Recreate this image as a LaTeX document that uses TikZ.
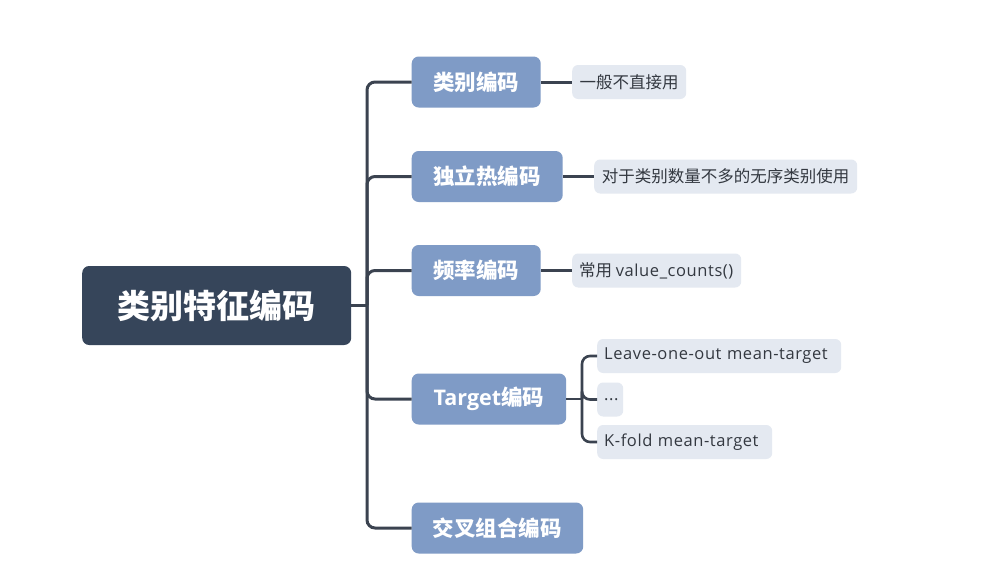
\documentclass[tikz,border=0pt]{standalone}
\usepackage{fontspec}
\setmainfont{Noto Sans CJK SC}
\newfontfamily\latin{Open Sans}
\newfontfamily\latinw[LetterSpace=3.5]{Open Sans}
\definecolor{rootc}{HTML}{36455A}
\definecolor{childc}{HTML}{7F9BC6}
\definecolor{leafc}{HTML}{E4E9F1}
\definecolor{linec}{HTML}{3B4350}
\definecolor{leaftext}{HTML}{333840}
\tikzset{
  rootbox/.style={fill=rootc, rounded corners=7pt, text=white, anchor=west, inner sep=0pt,
    font=\fontsize{33}{36}\selectfont\bfseries, align=center},
  childbox/.style={fill=childc, rounded corners=7pt, text=white, anchor=west, inner sep=0pt,
    font=\fontsize{21.5}{25}\selectfont\bfseries, align=center, minimum height=51pt},
  leafbox/.style={fill=leafc, rounded corners=6pt, text=leaftext, anchor=west, inner sep=0pt,
    font=\fontsize{16.5}{19}\selectfont, align=center, minimum height=34pt},
  latinleaf/.style={leafbox, inner xsep=7pt, align=left, font=\fontsize{16.5}{19}\selectfont\latinw},
  conn/.style={draw=linec, line width=3pt, rounded corners=8pt},
  leafconn/.style={draw=linec, line width=2.6pt, rounded corners=8pt}
}
\begin{document}
\begin{tikzpicture}[x=1pt,y=-1pt]
\useasboundingbox[fill=white] (0,0) rectangle (986,568);
% root
\node[rootbox, minimum width=269pt, minimum height=79pt] (root) at (82,305.5) {类别特征编码};
% children
\node[childbox, minimum width=129pt] (c1) at (411.5,82) {类别编码};
\node[childbox, minimum width=151pt] (c2) at (411.5,176.5) {独立热编码};
\node[childbox, minimum width=129pt] (c3) at (411.5,270.5) {频率编码};
\node[childbox, minimum width=154.5pt] (c4) at (411.5,399) {{\latin Target}编码};
\node[childbox, minimum width=171.5pt] (c5) at (411.5,528) {交叉组合编码};
% leaves
\node[leafbox, minimum width=114pt] (l1) at (572,82) {一般不直接用};
\node[leafbox, minimum width=263pt] (l2) at (594,176.5) {对于类别数量不多的无序类别使用};
\node[leafbox, inner xsep=7pt] (l3) at (572,270.5) {\makebox[155pt][l]{常用 {\latinw\fontsize{16.5}{19}\selectfont value\_counts()}}};
\node[latinleaf, text width=230pt] (l4) at (597,356) {Leave-one-out mean-target};
\node[latinleaf, text width=12pt] (l5) at (597,399.5) {...};
\node[latinleaf, text width=161pt] (l6) at (597,442) {K-fold mean-target};
% connectors
\coordinate (trunk) at (367,305.5);
\coordinate (ttrunk) at (582,399);
\draw[conn] (root.east) -- (trunk);
\foreach \c in {c1,c2,c3,c4,c5} {\draw[conn] (trunk) |- (\c.west);}
\draw[conn] (c1.east) -- (l1.west);
\draw[conn] (c2.east) -- (l2.west);
\draw[conn] (c3.east) -- (l3.west);
\draw[leafconn] (c4.east) -- (ttrunk);
\foreach \l in {l4,l5,l6} {\draw[leafconn] (ttrunk) |- (\l.west);}
\end{tikzpicture}
\end{document}
